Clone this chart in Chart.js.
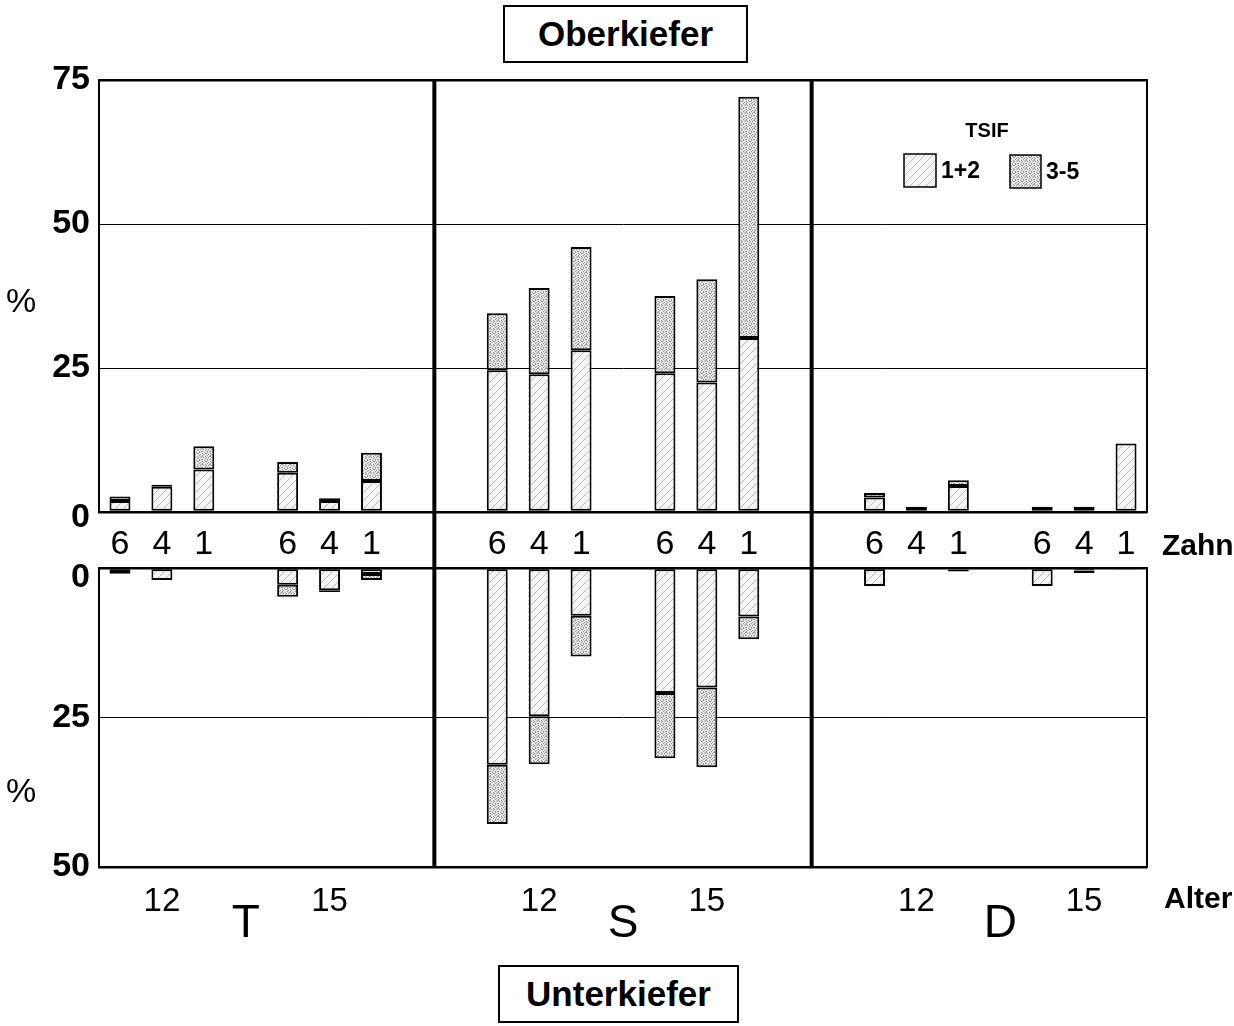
<!DOCTYPE html>
<html>
<head>
<meta charset="utf-8">
<script src="https://cdn.jsdelivr.net/npm/chart.js@4/dist/chart.umd.min.js"></script>
<style>
body { margin: 0; background: #fff; }
#wrap { position: relative; width: 1234px; height: 1026px; font-family: 'Liberation Sans', Arial, sans-serif; }
canvas { position: absolute; left: 0; top: 0; }
.lbl { position: absolute; color: #000; white-space: nowrap; line-height: 1; }
.box { position: absolute; border: 2px solid #000; box-sizing: border-box; display: flex; align-items: center; justify-content: center; font-weight: bold; font-size: 35px; background: #fff; }
</style>
</head>
<body>
<div id="wrap">
  <canvas id="upper" width="1234" height="1026"></canvas>
  <canvas id="lower" width="1234" height="1026"></canvas>
  <div class="box" style="left:503px;top:5px;width:245px;height:58px;">Oberkiefer</div>
  <div class="box" style="left:498px;top:965px;width:241px;height:58px;">Unterkiefer</div>
  <div class="lbl" style="left:6px;top:283px;font-size:34px;">%</div>
  <div class="lbl" style="left:6px;top:773px;font-size:34px;">%</div>
  <div class="lbl" style="left:1162px;top:530px;font-size:30px;font-weight:bold;">Zahn</div>
  <div class="lbl" style="left:1164px;top:883px;font-size:30px;font-weight:bold;">Alter</div>
</div>
<script>
var groups = ['T', 'S', 'D'];
var ages = ['12', '15'];
var teeth = ['6', '4', '1'];
var seriesNames = ['1+2', '3-5'];
var legendTitle = 'TSIF';

// order: group -> age -> tooth (6, 4, 1)
var upper12 = [1.9, 4.4, 7.4, 6.8, 1.9, 5.4,
               24.6, 23.9, 28.1, 24.1, 22.5, 30.2,
               2.5, 0.9, 4.5, 0.9, 0.9, 11.9];
var upper35 = [0.8, 0.35, 4.0, 1.9, 0.5, 4.9,
               9.9, 15.0, 17.9, 13.4, 17.9, 41.9,
               0.8, 0, 1.0, 0, 0, 0];
var lower12 = [0.5, 2.0, 0, 2.8, 3.7, 1.0,
               32.9, 24.8, 8.0, 20.9, 20.0, 8.1,
               3.0, 0.2, 0.3, 3.0, 0.4, 0.15];
var lower35 = [0.45, 0, 0, 2.0, 0.3, 1.0,
               9.9, 8.0, 6.8, 10.9, 13.3, 3.8,
               0, 0, 0.3, 0, 0.45, 0];

var upperTicks = [0, 25, 50, 75];
var lowerTicks = [0, 25, 50];

// build the slot layout (gaps between ages and groups)
var toothRow = [], bottomRow = [], isGroup = [], slotIndex = [], separators = [];
function pushSlot(tooth, label, idx) {
    toothRow.push(tooth); bottomRow.push(label); isGroup.push(false); slotIndex.push(idx);
}
var n = 0;
groups.forEach(function (g, gi) {
    if (gi > 0) { separators.push(toothRow.length); pushSlot('', '', -1); }
    ages.forEach(function (a, ai) {
        if (ai > 0) pushSlot('', '', -1);
        teeth.forEach(function (t, ti) {
            pushSlot(t, ti === 1 ? a : '', n++);
        });
    });
    if (gi < groups.length - 1) pushSlot('', '', -1);
});
// group letter sits in the gap between its two ages
groups.forEach(function (g, gi) {
    var start = gi === 0 ? 0 : separators[gi - 1] + 1;
    var gap = toothRow.indexOf('', start);
    bottomRow[gap] = g;
    isGroup[gap] = true;
});

function slot(values) {
    return slotIndex.map(function (i) { return i < 0 ? null : values[i]; });
}

function makeHatch() {
    var c = document.createElement('canvas');
    c.width = 8; c.height = 8;
    var x = c.getContext('2d');
    x.fillStyle = '#f4f4f4'; x.fillRect(0, 0, 8, 8);
    x.strokeStyle = '#bdbdbd'; x.lineWidth = 1;
    x.beginPath();
    x.moveTo(0, 8); x.lineTo(8, 0);
    x.moveTo(-1, 1); x.lineTo(1, -1);
    x.moveTo(7, 9); x.lineTo(9, 7);
    x.stroke();
    return x.createPattern(c, 'repeat');
}

function makeStipple() {
    var c = document.createElement('canvas');
    c.width = 8; c.height = 8;
    var x = c.getContext('2d');
    x.fillStyle = '#e6e6e6'; x.fillRect(0, 0, 8, 8);
    x.fillStyle = '#969696';
    var dots = [[1,0],[2,0],[5,0],[0,1],[3,1],[6,1],[5,2],[1,3],[2,3],[7,3],
                [4,4],[7,4],[5,5],[6,5],[2,5],[0,6],[3,6],[2,7],[7,7]];
    dots.forEach(function (d) { x.fillRect(d[0], d[1], 1, 1); });
    return x.createPattern(c, 'repeat');
}

var hatch = makeHatch();
var stipple = makeStipple();
var fills = [hatch, stipple];

var frame = {
    id: 'frame',
    afterDatasetsDraw: function (chart, args, opts) {
        var ctx = chart.ctx, a = chart.chartArea, x = chart.scales.x;
        ctx.save();
        ctx.strokeStyle = '#000';
        ctx.lineWidth = 2;
        ctx.beginPath();
        ctx.moveTo(a.right, a.top - 1); ctx.lineTo(a.right, a.bottom + 1);
        ctx.stroke();
        ctx.lineWidth = 4;
        separators.forEach(function (i) {
            var px = (x.getPixelForTick(i - 1) + x.getPixelForTick(i)) / 2;
            ctx.beginPath();
            ctx.moveTo(px, a.top - 1); ctx.lineTo(px, a.bottom + (opts.down || 0));
            ctx.stroke();
        });
        ctx.restore();
    }
};

var tsifLegend = {
    id: 'tsifLegend',
    afterDraw: function (chart) {
        var ctx = chart.ctx;
        var boxes = [{x: 904, y: 154, w: 32, h: 33}, {x: 1010, y: 155, w: 31, h: 33}];
        ctx.save();
        ctx.fillStyle = '#000';
        ctx.font = 'bold 20px "Liberation Sans", Arial, sans-serif';
        ctx.textAlign = 'center';
        ctx.textBaseline = 'middle';
        ctx.fillText(legendTitle, 987, 131);
        ctx.textAlign = 'left';
        ctx.font = 'bold 23px "Liberation Sans", Arial, sans-serif';
        chart.data.datasets.forEach(function (ds, i) {
            var b = boxes[i];
            ctx.fillStyle = ds.backgroundColor;
            ctx.fillRect(b.x, b.y, b.w, b.h);
            ctx.strokeStyle = '#000';
            ctx.lineWidth = 1.5;
            ctx.strokeRect(b.x, b.y, b.w, b.h);
            ctx.fillStyle = '#000';
            ctx.fillText(ds.label, b.x + b.w + 5, b.y + b.h / 2 + 1);
        });
        ctx.restore();
    }
};

function datasets(a, b) {
    return [a, b].map(function (vals, i) {
        return {
            label: seriesNames[i],
            data: slot(vals),
            backgroundColor: fills[i],
            borderColor: '#000',
            borderWidth: 2,
            borderSkipped: false,
            barPercentage: 0.5,
            categoryPercentage: 1
        };
    });
}

function gridWidth(ticks) {
    return function (c) {
        var v = c.tick.value;
        return (v === ticks[0] || v === ticks[ticks.length - 1]) ? 2.5 : 1;
    };
}

var font = '"Liberation Sans", Arial, sans-serif';

// the "0" labels sit a little below their line, as in the original print
function yTicks(zeroShift) {
    return {
        padding: 9, color: '#000',
        callback: function (v) { return v === 0 ? ['', '0'] : String(v); },
        font: function (c) {
            return c.tick && c.tick.value === 0
                ? { family: font, size: 34, weight: 'bold', lineHeight: (zeroShift * 2) + 'px' }
                : { family: font, size: 34, weight: 'bold' };
        }
    };
}

new Chart(document.getElementById('upper'), {
    type: 'bar',
    data: { labels: toothRow, datasets: datasets(upper12, upper35) },
    options: {
        responsive: false,
        animation: false,
        layout: { padding: { left: 0, right: 87, top: 80, bottom: 458 } },
        plugins: { legend: { display: false }, tooltip: { enabled: false }, frame: { down: 56 } },
        scales: {
            x: {
                stacked: true,
                grid: { display: false },
                border: { display: false },
                ticks: { autoSkip: false, maxRotation: 0, minRotation: 0, padding: 4, color: '#000', font: { family: font, size: 34 } },
                afterFit: function (s) { s.height = 56; }
            },
            y: {
                stacked: true,
                min: upperTicks[0], max: upperTicks[upperTicks.length - 1],
                afterBuildTicks: function (s) { s.ticks = upperTicks.map(function (v) { return { value: v }; }); },
                ticks: yTicks(6),
                grid: { color: '#000', lineWidth: gridWidth(upperTicks), drawTicks: false },
                border: { display: true, color: '#000', width: 2 },
                afterFit: function (s) { s.width = 99; }
            }
        }
    },
    plugins: [frame, tsifLegend]
});

new Chart(document.getElementById('lower'), {
    type: 'bar',
    data: { labels: bottomRow, datasets: datasets(lower12, lower35) },
    options: {
        responsive: false,
        animation: false,
        layout: { padding: { left: 0, right: 87, top: 568, bottom: 69 } },
        plugins: { legend: { display: false }, tooltip: { enabled: false }, frame: { down: 0 } },
        scales: {
            x: {
                stacked: true,
                grid: { display: false },
                border: { display: false },
                ticks: {
                    autoSkip: false, maxRotation: 0, minRotation: 0, padding: 7, color: '#000',
                    font: function (c) {
                        return isGroup[c.index] ? { family: font, size: 46, lineHeight: 1.85 } : { family: font, size: 33 };
                    }
                },
                afterFit: function (s) { s.height = 90; }
            },
            y: {
                stacked: true,
                reverse: true,
                min: lowerTicks[0], max: lowerTicks[lowerTicks.length - 1],
                afterBuildTicks: function (s) { s.ticks = lowerTicks.map(function (v) { return { value: v }; }); },
                ticks: yTicks(10),
                grid: { color: '#000', lineWidth: gridWidth(lowerTicks), drawTicks: false },
                border: { display: true, color: '#000', width: 2 },
                afterFit: function (s) { s.width = 99; }
            }
        }
    },
    plugins: [frame]
});
</script>
</body>
</html>
